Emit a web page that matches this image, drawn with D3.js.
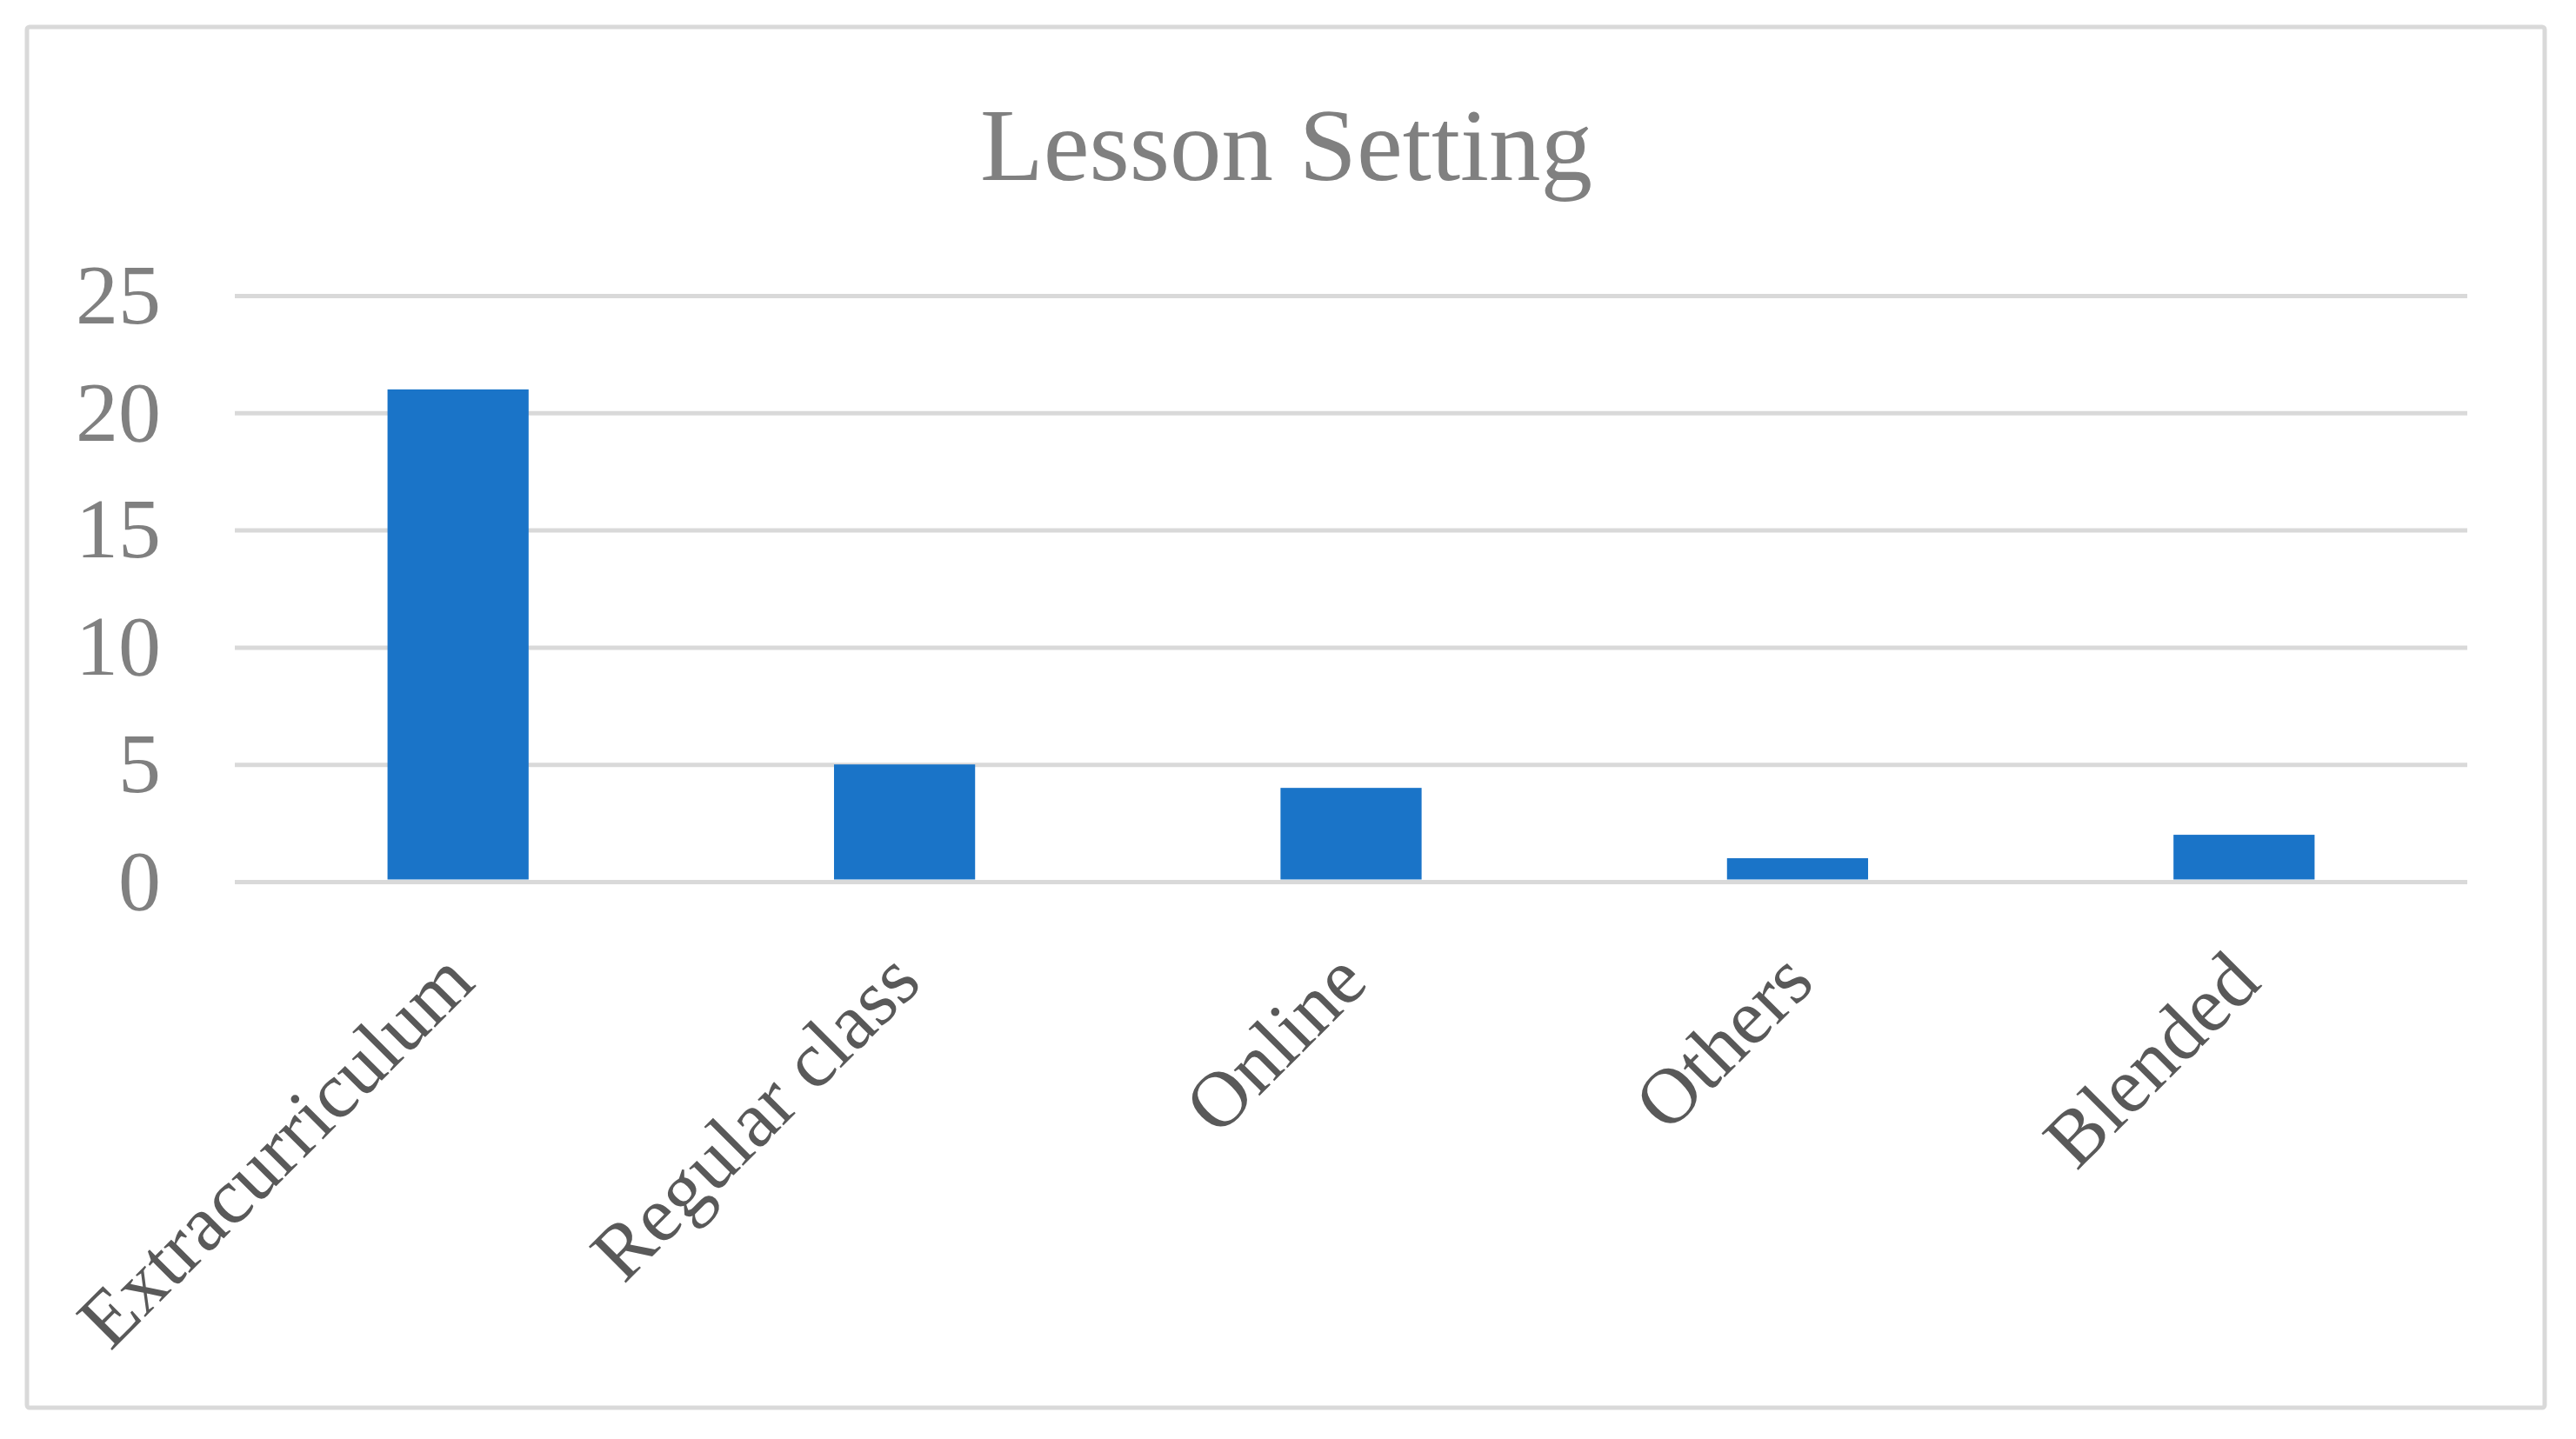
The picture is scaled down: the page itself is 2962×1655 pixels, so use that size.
<!DOCTYPE html>
<html>
<head>
<meta charset="utf-8">
<script src="https://cdn.jsdelivr.net/npm/d3@7"></script>
<style>
  body { margin: 0; background: #fff; }
</style>
</head>
<body>
<svg id="chart"></svg>
<script>
// Chart values
const categories = ["Extracurriculum", "Regular class", "Online", "Others", "Blended"];
const counts = [21, 5, 4, 1, 2];
const yTicks = [0, 5, 10, 15, 20, 25];
const chartTitle = "Lesson Setting";

const W = 2962, H = 1655;
const margin = { top: 340, right: 125, bottom: 641, left: 270 },
    plotWidth = W - margin.left - margin.right,
    plotHeight = H - margin.top - margin.bottom;

const svg = d3.select("#chart")
    .attr("width", W)
    .attr("height", H);

// Outer chart border
svg.append("rect")
    .attr("x", 31)
    .attr("y", 31)
    .attr("width", 2895)
    .attr("height", 1588)
    .attr("rx", 3)
    .style("fill", "white")
    .style("stroke", "#d9d9d9")
    .style("stroke-width", 5);

// Title
svg.append("text")
    .attr("x", 1479)
    .attr("y", 207)
    .attr("text-anchor", "middle")
    .style("font-family", "'Liberation Serif', 'Times New Roman', serif")
    .style("font-size", "119px")
    .style("fill", "#808080")
    .text(chartTitle);

const g = svg.append("g")
    .attr("transform", `translate(${margin.left}, ${margin.top})`);

// Scales
const x = d3.scaleBand()
    .domain(categories)
    .range([0, plotWidth])
    .paddingInner(0.684)
    .paddingOuter(0.342);

const y = d3.scaleLinear()
    .domain([0, 25])
    .range([plotHeight, 0]);

// Y axis with gridlines
const yAxis = g.append("g")
    .call(d3.axisLeft(y).tickValues(yTicks).tickSize(-plotWidth).tickPadding(85));
yAxis.select(".domain").remove();
yAxis.selectAll(".tick line")
    .style("stroke", "#d9d9d9")
    .style("stroke-width", 5);
yAxis.selectAll(".tick text")
    .style("font-family", "'Liberation Serif', 'Times New Roman', serif")
    .style("font-size", "98px")
    .style("fill", "#808080");

// Bars
g.selectAll("rect.bar").data(categories)
    .enter().append("rect")
    .attr("class", "bar")
    .attr("x", d => x(d))
    .attr("y", (d, i) => y(counts[i]))
    .attr("width", x.bandwidth())
    .attr("height", (d, i) => y(0) - y(counts[i]) - 2.5)
    .style("fill", "#1a74c8");

// X axis labels
const xAxis = g.append("g")
    .attr("transform", `translate(0, ${plotHeight})`)
    .call(d3.axisBottom(x).tickSize(0));
xAxis.select(".domain").remove();
xAxis.selectAll(".tick text")
    .attr("x", 0)
    .attr("y", 0)
    .attr("dy", 0)
    .attr("text-anchor", "end")
    .attr("transform", "translate(22, 119) rotate(-45)")
    .style("font-family", "'Liberation Serif', 'Times New Roman', serif")
    .style("font-size", "91px")
    .style("fill", "#595959");
</script>
</body>
</html>
